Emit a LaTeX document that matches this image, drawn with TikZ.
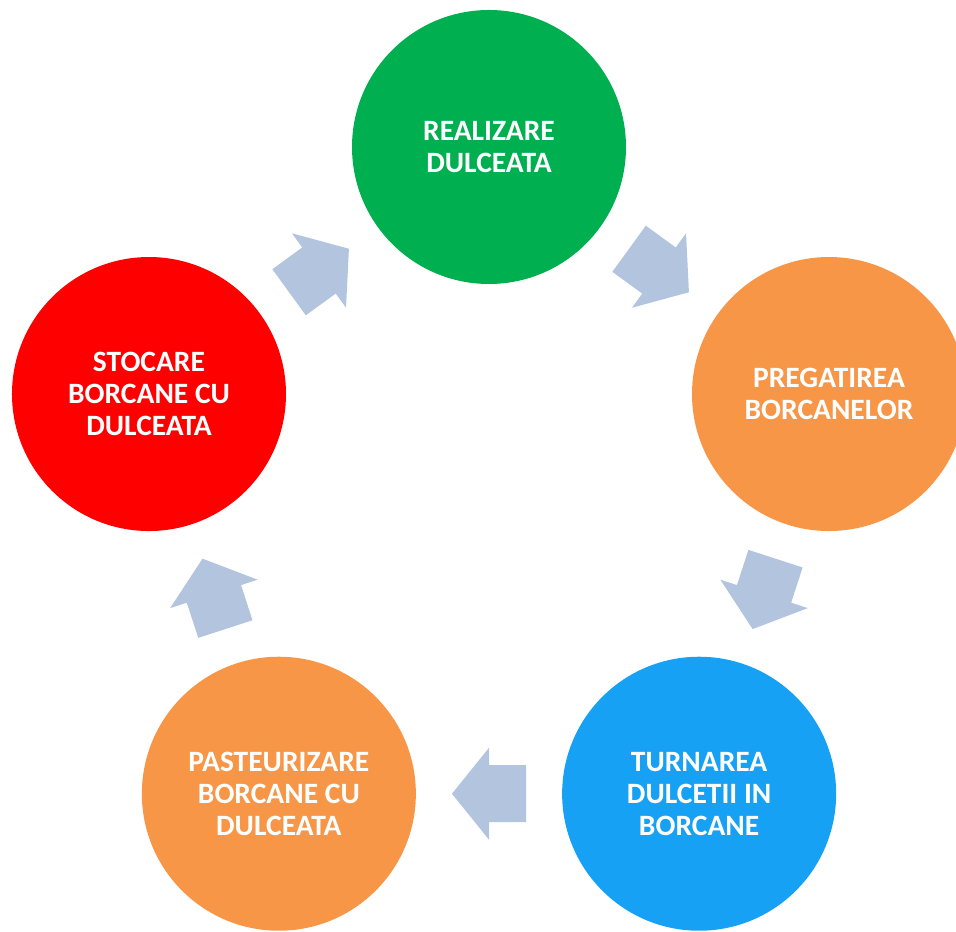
\documentclass[tikz,border=0pt]{standalone}
\usepackage{fontspec}
\setmainfont{Carlito}
\usepackage{tikz}
\definecolor{stagegreen}{RGB}{0,176,80}
\definecolor{stageorange}{RGB}{247,150,70}
\definecolor{stageblue}{RGB}{22,161,245}
\definecolor{stagered}{RGB}{255,0,0}
\definecolor{arrowblue}{RGB}{179,196,223}
\tikzstyle{stage} = [circle, minimum size=5.48cm, inner sep=0pt, draw=none, text=white, align=center, font=\fontsize{16.8}{18.2}\selectfont\bfseries]
\tikzstyle{onpath} = [midway, sloped, allow upside down]
\tikzset{blockarrow/.pic={\fill[arrowblue] (-0.74,0.57) -- (0,0.57) -- (0,0.92) -- (0.74,0) -- (0,-0.92) -- (0,-0.57) -- (-0.74,-0.57) -- cycle;}}

\begin{document}
\begin{tikzpicture}

\useasboundingbox (-9.78,-8.53) rectangle (9.34,10.09);
\clip (-9.78,-8.53) rectangle (9.34,10.09);

\node (realizare) [stage, fill=stagegreen] at (90:7.15) {REALIZARE\\DULCEATA};

\node (pregatire) [stage, fill=stageorange] at (18:7.15) {PREGATIREA\\BORCANELOR};

\node (turnare) [stage, fill=stageblue] at (-54:7.15) {TURNAREA\\DULCETII IN\\BORCANE};

\node (pasteurizare) [stage, fill=stageorange] at (-126:7.15) {PASTEURIZARE\\BORCANE CU\\DULCEATA};

\node (stocare) [stage, fill=stagered] at (162:7.15) {STOCARE\\BORCANE CU\\DULCEATA};


\path (realizare) -- pic[onpath] {blockarrow} (pregatire);
\path (pregatire) -- pic[onpath] {blockarrow} (turnare);
\path (turnare) -- pic[onpath] {blockarrow} (pasteurizare);
\path (pasteurizare) -- pic[onpath] {blockarrow} (stocare);
\path (stocare) -- pic[onpath] {blockarrow} (realizare);

\end{tikzpicture}
\end{document}
